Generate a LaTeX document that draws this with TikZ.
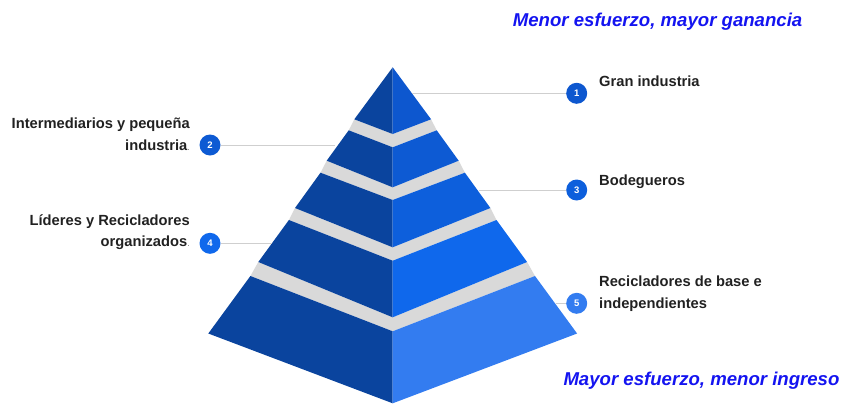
\documentclass[tikz,border=0pt]{standalone}
\usepackage{fontspec}
\setmainfont{Liberation Sans}

\definecolor{sideL}{HTML}{0A449E}
\definecolor{sideA}{HTML}{0D57CF}
\definecolor{sideB}{HTML}{0D5AD3}
\definecolor{sideC}{HTML}{0D5FDC}
\definecolor{sideD}{HTML}{0F68EC}
\definecolor{sideE}{HTML}{337CF0}
\definecolor{band}{HTML}{D9D9D9}
\definecolor{leadgray}{HTML}{CFCFCF}
\definecolor{txt}{HTML}{212121}
\definecolor{note}{HTML}{1414F0}

\tikzset{
	num/.style={circle, fill=#1, text=white, inner sep=0pt, minimum size=21pt,
		font=\bfseries\fontsize{9.5}{9.5}\selectfont},
	lbl/.style={text=txt, inner sep=0pt, font=\bfseries\fontsize{14.7}{21.7}\selectfont},
	lead/.style={draw=leadgray, line width=1pt},
	note/.style={text=note, inner sep=0pt, font=\bfseries\itshape\fontsize{18.6}{18.6}\selectfont},
}

\begin{document}
\begin{tikzpicture}[x=1pt, y=-1pt]
	\useasboundingbox (0,0) rectangle (841,405);
	
	% gray bands between the tiers
	\fill[band] (354.3,119.3) -- (392.7,134) -- (431.1,119.3) -- (436.7,130.3) -- (392.7,147.3) -- (348.7,130.3) -- cycle;
	\fill[band] (326.7,160.7) -- (392.7,187.3) -- (458.7,160.7) -- (464.9,172.7) -- (392.7,200) -- (320.5,172.7) -- cycle;
	\fill[band] (295,208) -- (392.7,247.3) -- (490.4,208) -- (496.5,220) -- (392.7,260.7) -- (288.9,220) -- cycle;
	\fill[band] (258.3,262) -- (392.7,317.3) -- (527.1,262) -- (535,276) -- (392.7,331.3) -- (250.4,276) -- cycle;
	
	% tier 1
	\fill[sideL] (392.7,67.3) -- (392.7,134) -- (354.3,119.3) -- cycle;
	\fill[sideA] (392.7,67.3) -- (431.1,119.3) -- (392.7,134) -- cycle;
	% tier 2
	\fill[sideL] (348.7,130.3) -- (392.7,147.3) -- (392.7,187.3) -- (326.7,160.7) -- cycle;
	\fill[sideB] (392.7,147.3) -- (436.7,130.3) -- (458.7,160.7) -- (392.7,187.3) -- cycle;
	% tier 3
	\fill[sideL] (320.5,172.7) -- (392.7,200) -- (392.7,247.3) -- (295,208) -- cycle;
	\fill[sideC] (392.7,200) -- (464.9,172.7) -- (490.4,208) -- (392.7,247.3) -- cycle;
	% tier 4
	\fill[sideL] (288.9,220) -- (392.7,260.7) -- (392.7,317.3) -- (258.3,262) -- cycle;
	\fill[sideD] (392.7,260.7) -- (496.5,220) -- (527.1,262) -- (392.7,317.3) -- cycle;
	% tier 5
	\fill[sideL] (250.4,276) -- (392.7,331.3) -- (392.7,403.3) -- (208.3,333.5) -- cycle;
	\fill[sideE] (392.7,331.3) -- (535,276) -- (577.1,333.5) -- (392.7,403.3) -- cycle;
	
	% edge points for the leaders
	\coordinate (e1) at (412,93.3);
	\coordinate (e2) at (335,145);
	\coordinate (e3) at (479.3,190);
	\coordinate (e4) at (271.7,243.3);
	\coordinate (e5) at (556,303.3);
	
	\node[num=sideA] (n1) at (576.7,93.3) {1};
	\node[num=sideB] (n2) at (210,145) {2};
	\node[num=sideC] (n3) at (576.7,190) {3};
	\node[num=sideD] (n4) at (210,243.3) {4};
	\node[num=sideE] (n5) at (576.7,303.3) {5};
	
	\draw[lead] (e1) -- (n1);
	\draw[lead] (e2) -- (n2);
	\draw[lead] (e3) -- (n3);
	\draw[lead] (e4) -- (n4);
	\draw[lead] (e5) -- (n5);
	
	% two-line labels sit on the baseline of their last line
	\node[lbl, anchor=base west] (l1) at (599,86.7) {Gran industria};
	\node[lbl, anchor=base east, align=right] (l2) at (190,150)
		{Intermediarios y pequeña\\industria{\color{gray}\mdseries\fontsize{9}{9}\selectfont.}};
	\node[lbl, anchor=base west] (l3) at (599,185) {Bodegueros};
	\node[lbl, anchor=base east, align=right] (l4) at (190,246.7)
		{Líderes y Recicladores\\organizados{\color{gray}\mdseries\fontsize{9}{9}\selectfont.}};
	\node[lbl, anchor=base west, align=left] (l5) at (599,308.3)
		{Recicladores de base e\\independientes};
	
	\node[note, anchor=base west] (top) at (512.7,26.7) {Menor esfuerzo, mayor ganancia};
	\node[note, anchor=base west] (bot) at (563.3,385) {Mayor esfuerzo, menor ingreso};
	
\end{tikzpicture}
\end{document}
